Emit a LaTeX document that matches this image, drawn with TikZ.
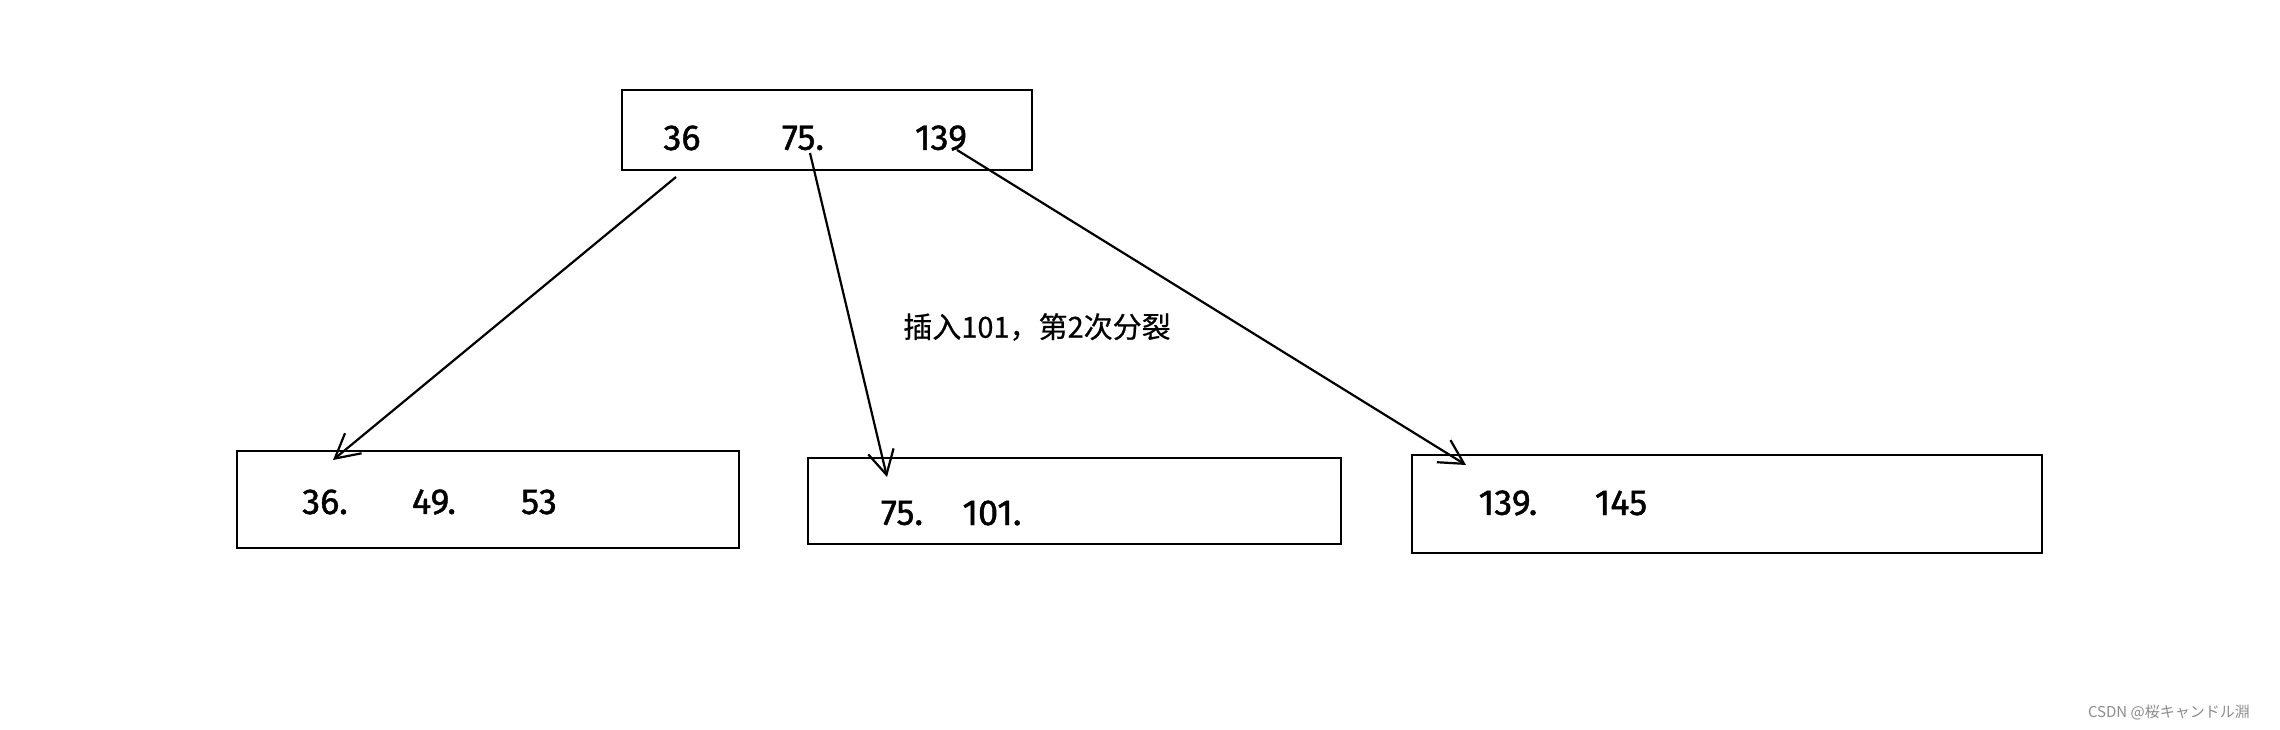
\documentclass[tikz,border=0pt]{standalone}
\usepackage{fontspec}
\setmainfont{Fira Sans}
\newfontfamily\numfont[FakeBold=1.2]{Fira Sans}
\newfontfamily\cjk[FakeBold=0.6]{Noto Sans CJK SC}
\newfontfamily\cjkwm{Noto Sans CJK SC}
\usetikzlibrary{arrows.meta}
\begin{document}
\begin{tikzpicture}[x=1pt,y=-1pt,
  keybox/.style={draw=black,line width=2.6pt,rectangle,inner sep=0pt},
  num/.style={font=\numfont\fontsize{36}{40}\selectfont,anchor=center,inner sep=0pt},
  arr/.style={line width=2.2pt,-{Straight Barb[length=24pt,width=26pt,line width=2.2pt]}}]
\useasboundingbox (0,0) rectangle (2280,730);
\fill[white] (0,0) rectangle (2280,730);
% boxes
\node[keybox,minimum width=410pt,minimum height=80pt] (top) at (827,130) {};
\node[keybox,minimum width=502pt,minimum height=97pt] (left) at (488,499.5) {};
\node[keybox,minimum width=533pt,minimum height=86pt] (mid) at (1074.5,501) {};
\node[keybox,minimum width=630pt,minimum height=98pt] (right) at (1727,504) {};
% keys
\node[num] (t1) at (682,138) {36};
\node[num] (t2) at (803,138) {75.};
\node[num] (t3) at (941,138) {139};
\node[num] (l1) at (325,502) {36.};
\node[num] (l2) at (434,502) {49.};
\node[num] (l3) at (539,502) {53};
\node[num] (m1) at (902,513) {75.};
\node[num] (m2) at (992,513) {101.};
\node[num] (r1) at (1508,503) {139.};
\node[num] (r2) at (1621,503) {145};
% label
\node[font=\cjk\fontsize{29}{32}\selectfont,inner sep=0pt] (lab) at (1037,327) {插入101，第2次分裂};
% connectors
\coordinate (s1) at (676,177);
\coordinate (e1) at (333,460);
\coordinate (s2) at (810,153);
\coordinate (e2) at (887,477);
\coordinate (s3) at (957,150);
\coordinate (e3) at (1466,465);
\draw[arr] (s1) -- (e1);
\draw[arr] (s2) -- (e2);
\draw[arr] (s3) -- (e3);
% watermark
\node[font=\cjkwm\fontsize{15}{18}\selectfont,text=black!45,anchor=east,inner sep=0pt] (wm) at (2250,712) {CSDN @桜キャンドル淵};
\end{tikzpicture}
\end{document}
